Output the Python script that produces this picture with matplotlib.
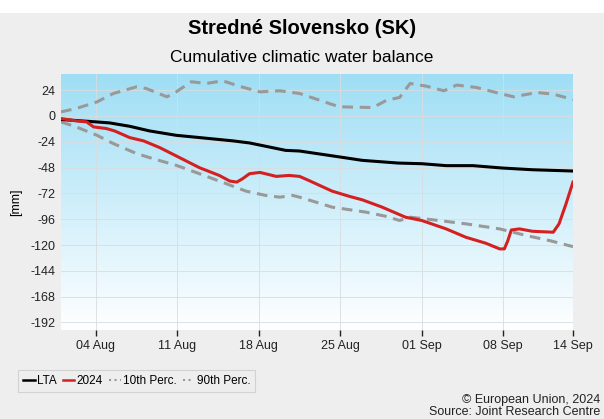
import matplotlib
matplotlib.use("Agg")
import matplotlib.pyplot as plt
import matplotlib.dates as mdates
from matplotlib.lines import Line2D
from matplotlib.patches import Rectangle
import numpy as np
import datetime as dt

plt.rcParams['font.family'] = ['Liberation Sans', 'DejaVu Sans']

start = dt.datetime(2024, 8, 1)

lta_days = [0, 3, 4.2, 5.9, 7.6, 9.9, 11.9, 14.8, 16.2, 17.6, 19.3, 20.5, 24, 25.9, 29, 31, 33.1, 35.4, 37.9, 40.5, 44]
lta_vals = [-3.3, -5.5, -6.5, -9.6, -13.9, -18, -20.1, -23.2, -25.1, -28.2, -32, -32.6, -38.2, -41.3, -43.8, -44.4, -46.2, -46.2, -48.4, -50, -51.2]

y2024_days = [0, 1.3, 2.2, 2.8, 3.9, 4.6, 5.9, 7.1, 8.5, 10.2, 11.9, 13.6, 14.5, 15.1, 15.6, 16.2, 17.1, 18.5, 19.6, 20.5,
              21.3, 23.3, 24.8, 25.9, 27.6, 29.6, 31, 33.1, 34.8, 36.5, 37.7, 38.1, 38.4, 38.7, 39.4, 40.5, 42.3, 42.8, 43.4, 44]
y2024_vals = [-2.4, -4.6, -5.5, -10.2, -11.7, -13.9, -20.1, -23.2, -29.5, -38.8, -48.1, -55.3, -60.5, -61.5, -58.4, -53.7, -52.5, -56.2, -55.3, -56.2,
              -60, -69.9, -74.8, -78, -84.8, -94.1, -97.2, -105, -112.8, -118.3, -123.6, -123.6, -115.9, -106, -105, -107.2, -108.1, -100.3, -81.7, -61.5]

p90_days = [0, 1.3, 3.1, 4.5, 6.5, 7.3, 9.1, 9.9, 11.2, 12.5, 13.9, 15.3, 17.1, 18.8, 20.5, 22.2, 23.9, 26.8, 28, 29.1, 30, 31.4, 32.9, 34, 35.7, 37.7, 38.9, 40.9, 42.3, 44]
p90_vals = [3.8, 6.9, 13.1, 20.9, 27.1, 25.6, 17.8, 22.4, 31.8, 30.2, 32.7, 27.7, 22.4, 23.4, 20.9, 14.7, 8.5, 7.8, 14.7, 17.2, 30.2, 27.7, 23.4, 28.7, 26.5, 20.9, 17.8, 21.8, 20.3, 15.3]

p10_days = [0, 1.3, 3.1, 4.5, 6.5, 7.9, 9.9, 11.9, 14.2, 15.9, 17.6, 18.8, 19.9, 20.5, 21.9, 23.3, 26.2, 28, 29.1, 30, 32, 34.8, 37.7, 40, 42, 44]
p10_vals = [-5.5, -10.2, -18, -25.7, -35, -39.7, -45.9, -53.7, -63, -69.9, -73.9, -75.5, -73.9, -75.5, -80.1, -84.8, -89.4, -93.5, -97.2, -94.1, -96.6, -100.3, -105, -111.2, -115.9, -121.5]

yticks = [24, 0, -24, -48, -72, -96, -120, -144, -168, -192]
xtick_dates = ["2024-08-04", "2024-08-11", "2024-08-18", "2024-08-25", "2024-09-01", "2024-09-08", "2024-09-14"]


def to_dates(days):
    return [start + dt.timedelta(days=d) for d in days]


fig = plt.figure(figsize=(6.04, 4.19), dpi=100)
fig.patch.set_facecolor('#eeeeee')
fig.add_artist(Rectangle((0, 1 - 13 / 419), 1, 13 / 419, transform=fig.transFigure,
                         facecolor='white', edgecolor='none', zorder=0))

ax = fig.add_axes([61 / 604, 1 - 330 / 419, (573 - 61) / 604, (330 - 74) / 419])

# gradient background
grad = np.linspace(0, 1, 256).reshape(-1, 1)
top = np.array([0.62, 0.87, 0.96])
bot = np.array([1.0, 1.0, 1.0])
img = bot[None, None, :] * (1 - grad[:, :, None]) + top[None, None, :] * grad[:, :, None]
ax.imshow(img, extent=[0, 1, 0, 1], transform=ax.transAxes, aspect='auto', origin='lower', zorder=0)

ax.plot(to_dates(p90_days), p90_vals, color='#999999', lw=2.2, ls=(0, (3.5, 2.2)), zorder=2)
ax.plot(to_dates(p10_days), p10_vals, color='#999999', lw=2.2, ls=(0, (3.5, 2.2)), zorder=2)
ax.plot(to_dates(lta_days), lta_vals, color='black', lw=2.2, zorder=3)
ax.plot(to_dates(y2024_days), y2024_vals, color='#d42020', lw=2.2, zorder=4)

ax.set_xlim(start, start + dt.timedelta(days=44))
ax.set_ylim(-199, 39)
ax.set_yticks(yticks)
ax.set_yticklabels([str(v) for v in yticks])
ax.set_xticks([dt.datetime.strptime(s, "%Y-%m-%d") for s in xtick_dates])
ax.xaxis.set_major_formatter(mdates.DateFormatter("%d %b"))
ax.grid(True, color='#d8dde0', lw=0.6)
ax.set_axisbelow(True)
for s in ax.spines.values():
    s.set_visible(False)
ax.tick_params(axis='y', length=0, labelsize=9, pad=4, colors='#222222')
ax.tick_params(axis='x', length=4, width=1, labelsize=9, pad=3, colors='#222222', direction='out')
ax.set_ylabel('[mm]', fontsize=9, labelpad=6)

fig.text(0.5, 1 - 29 / 419, 'Stredné Slovensko (SK)', ha='center', va='center', fontsize=14.5, fontweight='bold')
fig.text(0.5, 1 - 57 / 419, 'Cumulative climatic water balance', ha='center', va='center', fontsize=12.5)

handles = [
    Line2D([], [], color='black', lw=1.8),
    Line2D([], [], color='#d42020', lw=1.8),
    Line2D([], [], color='#999999', lw=1.5, ls=':'),
    Line2D([], [], color='#999999', lw=1.5, ls=':'),
]
leg = fig.legend(handles, ['LTA', '2024', '10th Perc.', '90th Perc.'], loc='center left',
                 bbox_to_anchor=(18 / 604, 1 - 381 / 419), ncol=4, fontsize=8.5,
                 handlelength=1.0, handletextpad=0.2, columnspacing=0.5, borderpad=0.4,
                 borderaxespad=0, frameon=True, fancybox=False, edgecolor='#cccccc', facecolor='#eeeeee')
leg.get_frame().set_linewidth(0.8)

fig.text(600 / 604, 1 - 400 / 419, '© European Union, 2024', ha='right', va='center', fontsize=9, color='#222222')
fig.text(600 / 604, 1 - 412 / 419, 'Source: Joint Research Centre', ha='right', va='center', fontsize=9, color='#222222')

fig.savefig('out.png', dpi=100, facecolor=fig.get_facecolor())
